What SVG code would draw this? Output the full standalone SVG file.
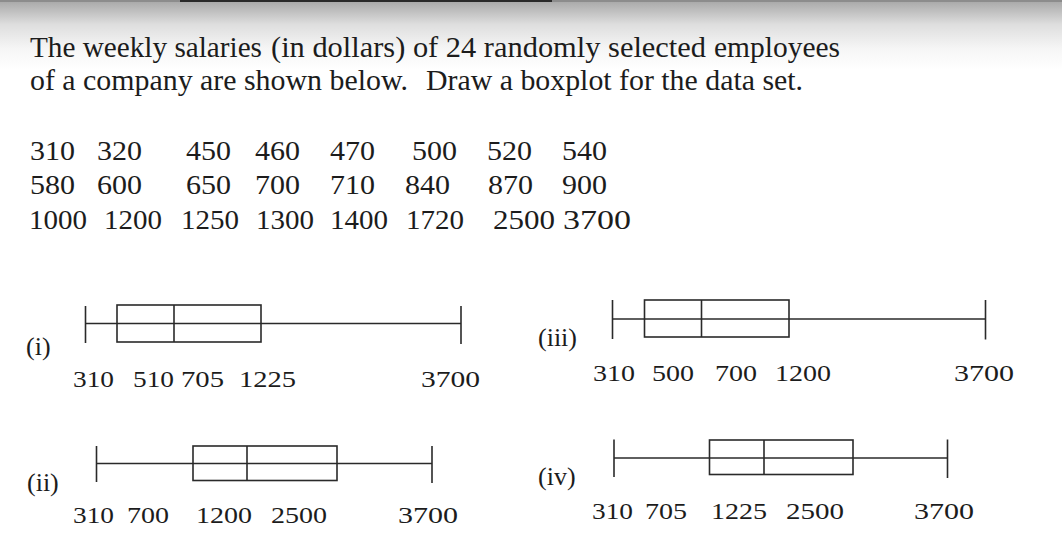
<svg xmlns="http://www.w3.org/2000/svg" width="1062" height="553" viewBox="0 0 1062 553">
<defs>
<linearGradient id="topfade" x1="0" y1="0" x2="0" y2="1">
<stop offset="0" stop-color="#a6a6a6"/>
<stop offset="0.35" stop-color="#dedede"/>
<stop offset="0.7" stop-color="#f6f6f6"/>
<stop offset="1" stop-color="#ffffff"/>
</linearGradient>
</defs>
<style>
.t{font-family:"Liberation Serif","Times New Roman",serif;fill:#1c1c1c}
.title{font-size:29px}
.data{font-size:27px}
.lab{font-size:24px}
.roman{font-size:26px}
.bx{fill:none;stroke:#2a2a2a;stroke-width:1.6}
</style>
<rect x="0" y="0" width="1062" height="553" fill="#ffffff"/>
<rect x="0" y="0" width="1062" height="70" fill="url(#topfade)"/>
<rect x="0" y="0" width="1062" height="2" fill="#8c8c8c"/>
<rect x="180" y="0" width="372" height="2" fill="#2a2a2a"/>

<g id="title">
<text class="t title" x="30" y="57" textLength="232" lengthAdjust="spacingAndGlyphs">The weekly salaries</text>
<text class="t title" x="271" y="57" textLength="435" lengthAdjust="spacingAndGlyphs">(in dollars) of 24 randomly selected</text>
<text class="t title" x="714" y="57" textLength="126" lengthAdjust="spacingAndGlyphs">employees</text>
<text class="t title" x="30" y="90" textLength="378" lengthAdjust="spacingAndGlyphs">of a company are shown below.</text>
<text class="t title" x="426" y="90" textLength="377" lengthAdjust="spacingAndGlyphs">Draw a boxplot for the data set.</text>
</g>

<g id="data">
<text class="t data" x="30" y="160" textLength="45" lengthAdjust="spacingAndGlyphs">310</text>
<text class="t data" x="97" y="160" textLength="45" lengthAdjust="spacingAndGlyphs">320</text>
<text class="t data" x="186" y="160" textLength="45" lengthAdjust="spacingAndGlyphs">450</text>
<text class="t data" x="255" y="160" textLength="45" lengthAdjust="spacingAndGlyphs">460</text>
<text class="t data" x="330" y="160" textLength="45" lengthAdjust="spacingAndGlyphs">470</text>
<text class="t data" x="412" y="160" textLength="45" lengthAdjust="spacingAndGlyphs">500</text>
<text class="t data" x="487" y="160" textLength="45" lengthAdjust="spacingAndGlyphs">520</text>
<text class="t data" x="562" y="160" textLength="45" lengthAdjust="spacingAndGlyphs">540</text>

<text class="t data" x="30" y="194" textLength="45" lengthAdjust="spacingAndGlyphs">580</text>
<text class="t data" x="97" y="194" textLength="45" lengthAdjust="spacingAndGlyphs">600</text>
<text class="t data" x="186" y="194" textLength="45" lengthAdjust="spacingAndGlyphs">650</text>
<text class="t data" x="255" y="194" textLength="45" lengthAdjust="spacingAndGlyphs">700</text>
<text class="t data" x="330" y="194" textLength="45" lengthAdjust="spacingAndGlyphs">710</text>
<text class="t data" x="405" y="194" textLength="45" lengthAdjust="spacingAndGlyphs">840</text>
<text class="t data" x="488" y="194" textLength="45" lengthAdjust="spacingAndGlyphs">870</text>
<text class="t data" x="562" y="194" textLength="45" lengthAdjust="spacingAndGlyphs">900</text>

<text class="t data" x="29" y="229" textLength="58" lengthAdjust="spacingAndGlyphs">1000</text>
<text class="t data" x="104" y="229" textLength="58" lengthAdjust="spacingAndGlyphs">1200</text>
<text class="t data" x="181" y="229" textLength="58" lengthAdjust="spacingAndGlyphs">1250</text>
<text class="t data" x="256" y="229" textLength="58" lengthAdjust="spacingAndGlyphs">1300</text>
<text class="t data" x="330" y="229" textLength="58" lengthAdjust="spacingAndGlyphs">1400</text>
<text class="t data" x="406" y="229" textLength="58" lengthAdjust="spacingAndGlyphs">1720</text>
<text class="t data" x="493" y="229" textLength="62" lengthAdjust="spacingAndGlyphs">2500</text>
<text class="t data" x="563" y="229" textLength="68" lengthAdjust="spacingAndGlyphs">3700</text>
</g>

<g id="plot-i">
<text class="t roman" x="26" y="355">(i)</text>
<line class="bx" x1="85.5" y1="306" x2="85.5" y2="343"/>
<line class="bx" x1="85.5" y1="323.5" x2="461" y2="323.5"/>
<rect class="bx" x="117" y="305" width="144" height="37"/>
<line class="bx" x1="174" y1="305" x2="174" y2="342"/>
<line class="bx" x1="461" y1="306" x2="461" y2="344"/>
<text class="t lab" x="73" y="387" textLength="41" lengthAdjust="spacingAndGlyphs">310</text>
<text class="t lab" x="133" y="387" textLength="41" lengthAdjust="spacingAndGlyphs">510</text>
<text class="t lab" x="181" y="387" textLength="43" lengthAdjust="spacingAndGlyphs">705</text>
<text class="t lab" x="239" y="387" textLength="57" lengthAdjust="spacingAndGlyphs">1225</text>
<text class="t lab" x="421" y="387" textLength="59" lengthAdjust="spacingAndGlyphs">3700</text>
</g>

<g id="plot-iii">
<text class="t roman" x="538" y="346">(iii)</text>
<line class="bx" x1="612.5" y1="300" x2="612.5" y2="339"/>
<line class="bx" x1="612.5" y1="319" x2="985.5" y2="319"/>
<rect class="bx" x="644.5" y="300" width="144.5" height="37"/>
<line class="bx" x1="701.5" y1="300" x2="701.5" y2="337"/>
<line class="bx" x1="985.5" y1="300" x2="985.5" y2="339.5"/>
<text class="t lab" x="593" y="381" textLength="42" lengthAdjust="spacingAndGlyphs">310</text>
<text class="t lab" x="652" y="381" textLength="42" lengthAdjust="spacingAndGlyphs">500</text>
<text class="t lab" x="715" y="381" textLength="42" lengthAdjust="spacingAndGlyphs">700</text>
<text class="t lab" x="775" y="381" textLength="56" lengthAdjust="spacingAndGlyphs">1200</text>
<text class="t lab" x="954" y="381" textLength="60" lengthAdjust="spacingAndGlyphs">3700</text>
</g>

<g id="plot-ii">
<text class="t roman" x="27" y="491">(ii)</text>
<line class="bx" x1="96.5" y1="446" x2="96.5" y2="482"/>
<line class="bx" x1="96.5" y1="463.5" x2="432" y2="463.5"/>
<rect class="bx" x="193" y="446" width="144" height="34.5"/>
<line class="bx" x1="247" y1="446" x2="247" y2="480.5"/>
<line class="bx" x1="432" y1="446" x2="432" y2="483"/>
<text class="t lab" x="73" y="523" textLength="41" lengthAdjust="spacingAndGlyphs">310</text>
<text class="t lab" x="127" y="523" textLength="42" lengthAdjust="spacingAndGlyphs">700</text>
<text class="t lab" x="196" y="523" textLength="56" lengthAdjust="spacingAndGlyphs">1200</text>
<text class="t lab" x="271" y="523" textLength="56" lengthAdjust="spacingAndGlyphs">2500</text>
<text class="t lab" x="398" y="523" textLength="60" lengthAdjust="spacingAndGlyphs">3700</text>
</g>

<g id="plot-iv">
<text class="t roman" x="538" y="485">(iv)</text>
<line class="bx" x1="614" y1="439.5" x2="614" y2="477"/>
<line class="bx" x1="614" y1="458" x2="947.5" y2="458"/>
<rect class="bx" x="709.5" y="440" width="143.5" height="34.5"/>
<line class="bx" x1="764" y1="440" x2="764" y2="474.5"/>
<line class="bx" x1="947.5" y1="439.5" x2="947.5" y2="478"/>
<text class="t lab" x="592" y="519" textLength="41" lengthAdjust="spacingAndGlyphs">310</text>
<text class="t lab" x="645" y="519" textLength="42" lengthAdjust="spacingAndGlyphs">705</text>
<text class="t lab" x="711" y="519" textLength="56" lengthAdjust="spacingAndGlyphs">1225</text>
<text class="t lab" x="786" y="519" textLength="58" lengthAdjust="spacingAndGlyphs">2500</text>
<text class="t lab" x="914" y="519" textLength="60" lengthAdjust="spacingAndGlyphs">3700</text>
</g>
</svg>
